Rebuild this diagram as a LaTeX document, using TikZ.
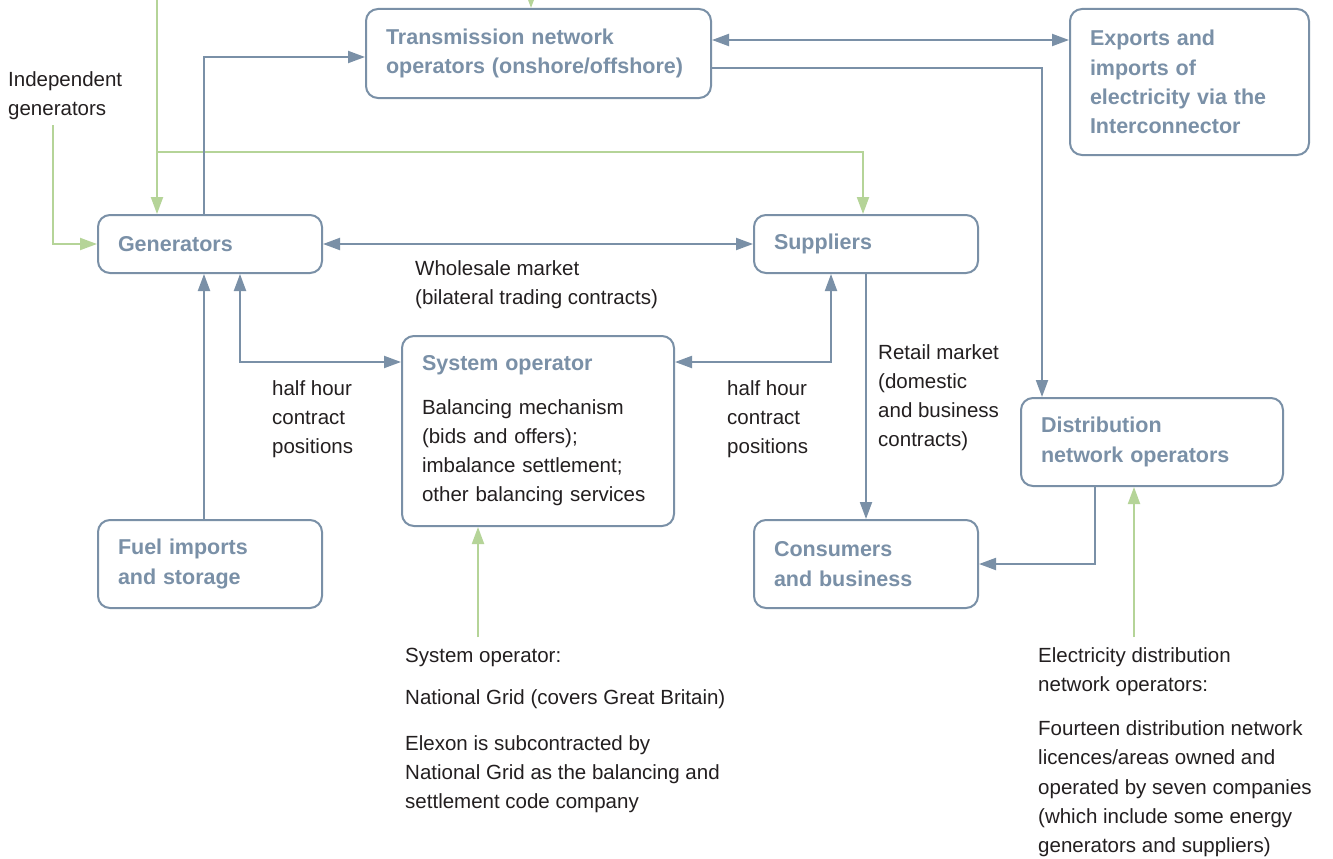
\documentclass[tikz,border=0pt]{standalone}
\usepackage{fontspec}
\setmainfont{Liberation Sans}
\usetikzlibrary{arrows.meta,calc}
\definecolor{bx}{RGB}{122,144,167}
\definecolor{gr}{RGB}{181,212,152}
\definecolor{tx}{RGB}{35,31,32}
\newcommand{\nfont}{\fontsize{20.5}{29.3}\selectfont}
\newcommand{\bfont}{\fontsize{21.5}{29.3}\selectfont\bfseries}
\begin{document}
\begin{tikzpicture}[x=1pt,y=-1pt,
  box/.style={draw=bx,line width=2pt,rounded corners=12pt,anchor=north west,
     text width=#1,inner xsep=20pt,inner ysep=0pt,align=left,font=\nfont,text=bx},
  bt/.style={font=\bfont},
  lbl/.style={anchor=north west,inner sep=0pt,align=left,font=\nfont,text=tx},
  bl/.style={draw=bx,line width=2pt,-{Triangle[length=17pt,width=12pt]}},
  bb/.style={draw=bx,line width=2pt,{Triangle[length=17pt,width=12pt]}-{Triangle[length=17pt,width=12pt]}},
  gl/.style={draw=gr,line width=2pt,-{Triangle[length=17pt,width=12pt]}}]
\useasboundingbox (0,0) rectangle (1333,859);
\fill[white] (0,0) rectangle (1333,859);
% boxes
\node[box=305pt,minimum height=89pt] (tno) at (365,8) {\bfont Transmission network\\operators (onshore/offshore)};
\node[box=199pt,minimum height=146pt] (exp) at (1069,8) {\bfont Exports and\\imports of\\electricity via the\\Interconnector};
\node[box=184pt,minimum height=58pt] (gen) at (97,214) {\bfont Generators};
\node[box=184pt,minimum height=58pt] (sup) at (753,214) {\bfont Suppliers};
\node[box=232pt,minimum height=190pt] (sys) at (401,335) {{\bfont System operator}\\[14pt]\color{tx}Balancing mechanism\\(bids and offers);\\imbalance settlement;\\other balancing services};
\node[box=184pt,minimum height=88pt] (fuel) at (97,519) {\bfont Fuel imports\\and storage};
\node[box=184pt,minimum height=88pt] (con) at (753,519) {\bfont Consumers\\and business};
\node[box=222pt,minimum height=88pt] (dist) at (1020,397) {\bfont Distribution\\network operators};
% labels
\node[lbl] (ind) at (8,71) {Independent\\generators};
\node[lbl] (whole) at (415,260) {Wholesale market\\(bilateral trading contracts)};
\node[lbl] (hh1) at (272,380) {half hour\\contract\\positions};
\node[lbl] (hh2) at (727,380) {half hour\\contract\\positions};
\node[lbl] (ret) at (878,344) {Retail market\\(domestic\\and business\\contracts)};
\node[lbl] (sotext) at (405,648) {System operator:\\[13pt]National Grid (covers Great Britain)\\[16pt]Elexon is subcontracted by\\National Grid as the balancing and\\settlement code company};
\node[lbl] (dntext) at (1038,647) {Electricity distribution\\network operators:\\[15pt]Fourteen distribution network\\licences/areas owned and\\operated by seven companies\\(which include some energy\\generators and suppliers)};
% green connectors
\coordinate (gtop) at (157,-20);
\coordinate (gbr) at (157,152);
\coordinate (supin) at ($(sup.north)+(-3,0)$);
\draw[gl] (gtop) -- (gtop |- gen.north);
\draw[gl] (gbr) -| (supin);
\coordinate (ttop) at (531,-20);
\draw[gl] (ttop) -- (ttop |- tno.north);
\coordinate (ig) at (53,125);
\draw[gl] (ig) |- (gen.west);
\coordinate (so) at (478,637);
\draw[gl] (so) -- (so |- sys.south);
\coordinate (dn) at (1134,637);
\draw[gl] (dn) -- (dn |- dist.south);
% blue connectors
\coordinate (g0) at ($(gen.north west)+(107,0)$);
\coordinate (t0) at ($(tno.north west)+(0,49)$);
\draw[bl] (g0) |- (t0);
\coordinate (t1) at ($(tno.north east)+(0,32)$);
\draw[bb] (t1) -- (t1 -| exp.west);
\coordinate (t2) at ($(tno.north east)+(0,60)$);
\coordinate (d1) at ($(dist.north west)+(22,0)$);
\draw[bl] (t2) -| (d1);
\draw[bb] (gen.east) -- (sup.west);
\coordinate (f1) at ($(fuel.north west)+(107,0)$);
\draw[bl] (f1) -- (f1 |- gen.south);
\coordinate (g2) at ($(gen.south west)+(143,0)$);
\coordinate (s1) at ($(sys.north west)+(0,27)$);
\draw[bb] (g2) |- (s1);
\coordinate (u1) at ($(sup.south west)+(78,0)$);
\draw[bb] (u1) |- (s1 -| sys.east);
\coordinate (u2) at ($(sup.south west)+(113,0)$);
\draw[bl] (u2) -- (u2 |- con.north);
\coordinate (d2) at ($(dist.south west)+(75,0)$);
\draw[bl] (d2) |- (con.east);
\end{tikzpicture}
\end{document}
